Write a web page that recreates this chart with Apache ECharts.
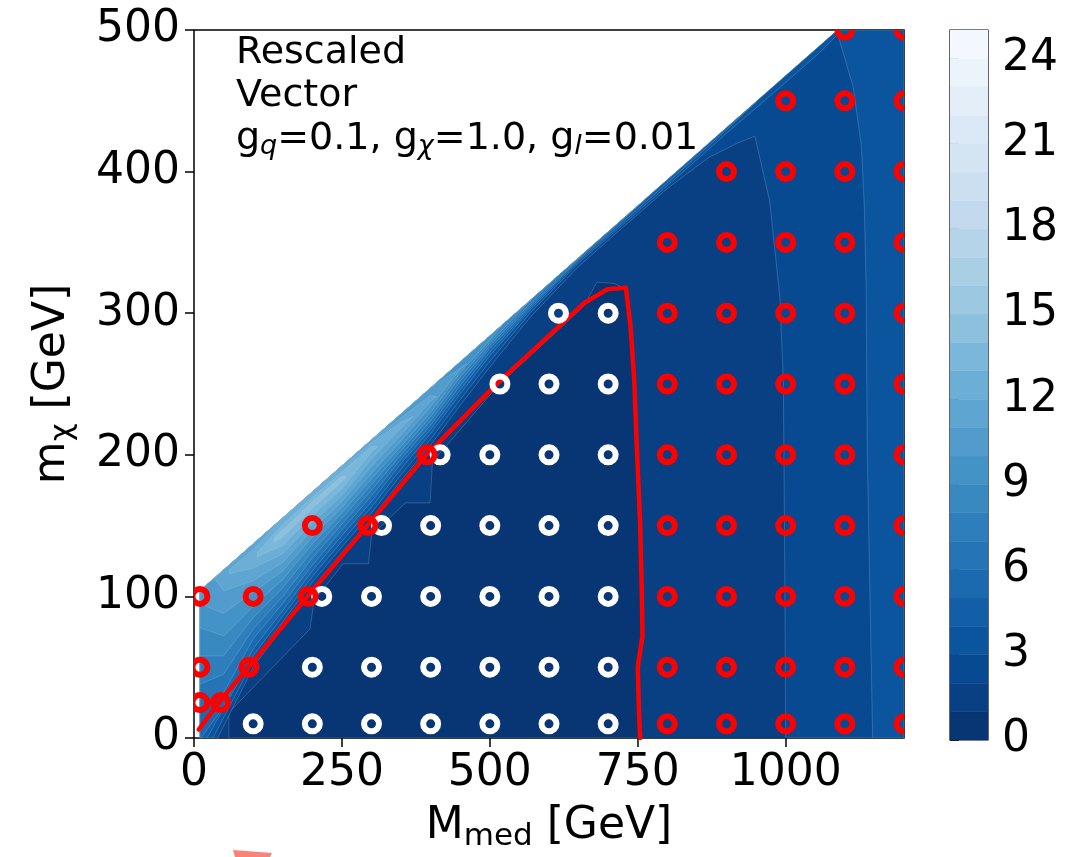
<!DOCTYPE html>
<html><head><meta charset="utf-8">
<script src="https://cdn.jsdelivr.net/npm/echarts@6/dist/echarts.min.js"></script>
<style>html,body{margin:0;padding:0;background:#fff}#c{width:1070px;height:857px}</style>
</head><body><div id="c"></div>
<script>
// ---------------- data ----------------
const xTicks = [0, 250, 500, 750, 1000];
const yTicks = [0, 100, 200, 300, 400, 500];
const cbTicks = [0, 3, 6, 9, 12, 15, 18, 21, 24];
const cbLevels = [0,1,2,3,4,5,6,7,8,9,10,11,12,13,14,15,16,17,18,19,20,21,22,23,24];

// excluded points (white rings) [Mmed, mchi]
const excludedPts = [[100,10],[200,10],[300,10],[400,10],[500,10],[600,10],[700,10],
  [200,50],[300,50],[400,50],[500,50],[600,50],[700,50],
  [216,100],[300,100],[400,100],[500,100],[600,100],[700,100],
  [317,150],[400,150],[500,150],[600,150],[700,150],
  [416,200],[500,200],[600,200],[700,200],
  [517,250],[600,250],[700,250],
  [616,300],[700,300]];
// allowed points (red rings)
const allowedPts = [[10,25],[45,25],[10,50],[93,50],[10,100],[100,100],[193,100],[200,150],[294,150],[394,200],
  [800,10],[900,10],[1000,10],[1100,10],[1200,10],
  [800,50],[900,50],[1000,50],[1100,50],[1200,50],
  [800,100],[900,100],[1000,100],[1100,100],[1200,100],
  [800,150],[900,150],[1000,150],[1100,150],[1200,150],
  [800,200],[900,200],[1000,200],[1100,200],[1200,200],
  [800,250],[900,250],[1000,250],[1100,250],[1200,250],
  [800,300],[900,300],[1000,300],[1100,300],[1200,300],
  [800,350],[900,350],[1000,350],[1100,350],[1200,350],
  [900,400],[1000,400],[1100,400],[1200,400],
  [1000,450],[1100,450],[1200,450],
  [1100,500],[1200,500]];
// exclusion contour (red line)
const limitLine = [[8,6],[42,25],[92,50],[192,100],[293,150],[393,200],[514,251],[659,307],[699,317],[730,318],
  [738,290],[744,253],[749,200],[754,152],[757,100],[758,72],[750,50],[752,20],[754,0]];

// filled-contour regions (value >= level)
const region1 = [[10,0],[1200,0],[1200,500],[1088,500],[10,104]];
const region0 = [[59,0],[59,18],[196,77],[203,97],[252,123],[295,123],[300,143],[357,166],[399,166],[403,195],[514,249],
  [600,282],[659,305],[681,322],[710,321],[730,317],[738,290],[744,253],[749,200],[754,152],[757,100],[758,72],[750,50],[752,20],[754,0]];
const region2 = [[10,0],[40,0],[100,50],[150,78],[200,106],[250,131],[300,155],[350,182],[400,207],[450,235],[500,262],[570,298],
  [650,333],[715,357],[800,388],[870,410],[918,420],[948,425],[973,379],[990,312],[996,253],[998,150],[1000,0],
  [1200,0],[1200,500],[1088,500],[10,104]];
const region3 = [[10,0],[32,0],[100,54],[150,82],[200,110],[250,135],[300,159],[350,186],[400,211],[450,239],[500,266],[570,301],
  [650,335.5],[715,359],[800,390],[900,427],[1000,463],[1060,485],[1088,497],[1114,460],[1128,418],[1133,375],[1136,319],
  [1138,200],[1147,0],[1200,0],[1200,500],[1088,500],[10,104]];
const region4 = [[10,0],[22,0],[100,58],[150,86],[200,114],[250,139],[300,163],[350,190],[400,215],[450,243],[500,270],[570,303],
  [650,337],[715,360.5],[800,392],[900,429.5],[950,449.3],[10,104]];
const region5 = [[10,0],[12,0],[50,22],[100,63],[150,90],[200,118],[250,143],[300,167],[350,194],[400,218],[450,246],[500,272.5],
  [570,304.5],[650,338],[715,362],[760,379.5],[10,104]];
const region6 = [[10,18],[50,32],[100,70],[150,95],[200,122],[250,147],[300,171],[350,197],[400,221],[450,249],[500,275],[570,306],
  [655,340.9],[10,104]];
const region7 = [[10,38],[50,45],[100,77],[150,100],[200,127],[250,151],[300,175],[350,200],[400,224],[450,252],[500,277],[570,307.5],
  [610,324.4],[10,104]];
const region8 = [[10,58],[50,58],[100,85],[150,106],[200,132],[250,155],[300,179],[350,203],[400,227],[450,255],[500,279],[570,309.7],[10,104]];
const region9 = [[10,78],[50,72],[100,93],[150,112],[200,137],[250,159],[300,183],[350,206],[400,230],[450,258],[500,281],[520,291.3],[10,104]];
const region10 = [[10,95],[50,88],[100,103],[150,118],[200,142],[250,163],[300,187],[350,210],[400,234],[450,260.5],[460,264],[400,247.2],[10,104]];
const region11 = [[34,112.8],[50,104],[100,111],[150,124],[200,147],[250,167],[300,192],[350,214],[400,238],[410,241],[400,242],[350,226],[300,210.5]];
const region12 = [[60,116],[100,120],[150,130],[200,152],[250,171],[300,197],[350,219],[370,227],[350,223],[300,208.5],[250,191],[200,173],[150,155.4],[100,133],[60,119]];
const region13 = [[107,128],[150,136],[200,157],[250,176],[300,202],[311,206],[300,206],[250,188],[200,170],[150,151],[107,131]];
const region14 = [[135,138],[150,142],[200,162],[250,181],[258,184.5],[250,185],[200,167],[150,147],[135,141]];

const contourRegions = [
  {level:1, poly:region1},{level:0, poly:region0},{level:2, poly:region2},{level:3, poly:region3},
  {level:4, poly:region4},{level:5, poly:region5},{level:6, poly:region6},{level:7, poly:region7},
  {level:8, poly:region8},{level:9, poly:region9},{level:10, poly:region10},{level:11, poly:region11},
  {level:12, poly:region12},{level:13, poly:region13},{level:14, poly:region14}];

// ---------------- colormap (matplotlib Blues, reversed, 25 bands over 0..25) ----------------
const BLUES = [[247,251,255],[222,235,247],[198,219,239],[158,202,225],[107,174,214],[66,146,198],[33,113,181],[8,81,156],[8,48,107]];
function blues(t){
  t = Math.min(1, Math.max(0, t));
  const p = t*8, i = Math.min(7, Math.floor(p)), f = p - i;
  const a = BLUES[i], b = BLUES[i+1];
  return 'rgb(' + a.map((v,j)=>Math.round(v + (b[j]-v)*f)).join(',') + ')';
}
function bandColor(k){ return blues(1 - (k + 0.5)/25); }

const FONT = 'DejaVu Sans';
const chart = echarts.init(document.getElementById('c'), null, {renderer:'canvas'});

const option = {
  animation: false,
  backgroundColor: '#fff',
  grid: [
    {left:194, top:30, width:710, height:710, show:true, borderColor:'#000', borderWidth:1.5, backgroundColor:'transparent', containLabel:false},
    {left:950, top:30, width:38, height:710, show:true, borderColor:'#000', borderWidth:1.2, backgroundColor:'transparent', containLabel:false}
  ],
  xAxis: [
    {type:'value', gridIndex:0, min:0, max:1200,
     axisLine:{show:false}, splitLine:{show:false},
     axisTick:{show:true, length:9, lineStyle:{color:'#000', width:1.5}, customValues:xTicks},
     axisLabel:{fontSize:44, fontFamily:FONT, color:'#000', margin:14, customValues:xTicks, formatter:v=>String(v)},
     name:'{a|M}{s|med}{a| [GeV]}', nameLocation:'middle', nameGap:64,
     nameTextStyle:{rich:{a:{fontSize:44, fontFamily:FONT, color:'#000', lineHeight:50}, s:{fontSize:31, fontFamily:FONT, color:'#000', lineHeight:25, verticalAlign:'bottom'}}}
    },
    {type:'value', gridIndex:1, min:0, max:1, show:false}
  ],
  yAxis: [
    {type:'value', gridIndex:0, min:0, max:500, interval:100,
     axisLine:{show:false}, splitLine:{show:false},
     axisTick:{show:true, length:9, lineStyle:{color:'#000', width:1.5}, customValues:yTicks},
     axisLabel:{fontSize:44, fontFamily:FONT, color:'#000', margin:14, customValues:yTicks, formatter:v=>String(v)},
     name:'{a|m}{s|χ}{a| [GeV]}', nameLocation:'middle', nameGap:116,
     nameTextStyle:{rich:{a:{fontSize:44, fontFamily:FONT, color:'#000', lineHeight:50}, s:{fontSize:31, fontFamily:FONT, color:'#000', lineHeight:25, verticalAlign:'bottom'}}}
    },
    {type:'value', gridIndex:1, min:0, max:25, position:'right',
     axisLine:{show:false}, splitLine:{show:false},
     axisTick:{show:true, length:9, lineStyle:{color:'#000', width:1.5}, customValues:cbTicks},
     axisLabel:{fontSize:44, fontFamily:FONT, color:'#000', margin:14, customValues:cbTicks, formatter:v=>String(v)}
    }
  ],
  graphic: [
    {type:'text', left:236, top:34, z:100,
     style:{
       text:'{a|Rescaled}\n{a|Vector}\n{a|g}{i|q}{a|=0.1, g}{i|χ}{a|=1.0, g}{i|l}{a|=0.01}',
       rich:{
         a:{fontSize:38, fontFamily:FONT, fill:'#000', lineHeight:43},
         i:{fontSize:27, fontFamily:FONT, fontStyle:'italic', fill:'#000', lineHeight:20, verticalAlign:'bottom'}
       }
     }},
    {type:'polygon', z:100, shape:{points:[[233,850],[272,853],[270,857],[235,857]]}, style:{fill:'#f88379'}}
  ],
  series: [
    {type:'custom', name:'contours', xAxisIndex:0, yAxisIndex:0, clip:true, silent:true, z:1,
     data: contourRegions.map((r,i)=>[r.poly[0][0], r.poly[0][1], i]),
     encode:{x:0, y:1},
     renderItem:(params, api)=>{
       const r = contourRegions[params.dataIndex];
       const col = bandColor(r.level);
       const seam = r.level === 1 ? col : 'rgba(170,205,235,0.35)';
       return {type:'polygon', shape:{points:r.poly.map(p=>api.coord(p))},
               style:{fill:col, stroke:seam, lineWidth:0.7}};
     }},
    {type:'line', name:'limit', xAxisIndex:0, yAxisIndex:0, data:limitLine, symbol:'none', smooth:false, clip:true, z:3,
     lineStyle:{color:'#ff0000', width:4.5, join:'round', cap:'round'}},
    {type:'custom', name:'excluded', xAxisIndex:0, yAxisIndex:0, clip:true, silent:true, z:4,
     data: excludedPts, encode:{x:0, y:1},
     renderItem:(params, api)=>{
       const c = api.coord([api.value(0), api.value(1)]);
       return {type:'circle', shape:{cx:c[0], cy:c[1], r:7.5}, style:{fill:null, stroke:'#ffffff', lineWidth:6}};
     }},
    {type:'custom', name:'allowed', xAxisIndex:0, yAxisIndex:0, clip:true, silent:true, z:4,
     data: allowedPts, encode:{x:0, y:1},
     renderItem:(params, api)=>{
       const c = api.coord([api.value(0), api.value(1)]);
       return {type:'circle', shape:{cx:c[0], cy:c[1], r:7.5}, style:{fill:null, stroke:'#ff0000', lineWidth:6}};
     }},
    {type:'custom', name:'colorbar', xAxisIndex:1, yAxisIndex:1, clip:true, silent:true, z:1,
     data: cbLevels.map(k=>[0, k]), encode:{x:0, y:1},
     renderItem:(params, api)=>{
       const k = api.value(1);
       const p0 = api.coord([0, k]), p1 = api.coord([1, k+1]);
       return {type:'rect', shape:{x:p0[0], y:p1[1], width:p1[0]-p0[0], height:p0[1]-p1[1]},
               style:{fill:bandColor(k), stroke:bandColor(k), lineWidth:0.5}};
     }}
  ]
};
chart.setOption(option);
</script>
</body></html>
